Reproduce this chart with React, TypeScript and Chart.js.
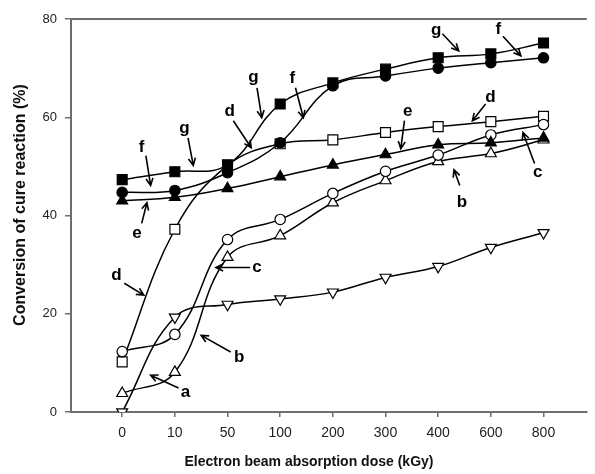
import React, { useEffect, useRef } from "react";
import { Chart, registerables } from "chart.js";

Chart.register(...registerables);

// Electron beam absorption dose (kGy) categories
const doses = ["0", "10", "50", "100", "200", "300", "400", "600", "800"];
const yTicks = [0, 20, 40, 60, 80];

// Conversion of cure reaction (%)
const seriesA = [0, 19.3, 21.9, 23.0, 24.4, 27.4, 29.6, 33.5, 36.5]; // open inverted triangle
const seriesB = [3.8, 8.1, 31.5, 35.9, 42.6, 47.1, 51.0, 52.6, 55.4]; // open triangle
const seriesC = [12.3, 15.8, 35.1, 39.2, 44.5, 49.0, 52.3, 56.4, 58.5]; // open circle
const seriesD = [10.2, 37.2, 50.2, 54.6, 55.4, 56.9, 58.1, 59.1, 60.2]; // open square
const seriesE = [43.0, 43.7, 45.5, 47.9, 50.3, 52.4, 54.4, 54.8, 55.8]; // filled triangle
const seriesF = [44.7, 45.1, 48.7, 54.8, 66.4, 68.4, 70.0, 71.1, 72.1]; // filled circle
const seriesG = [47.3, 48.9, 50.3, 62.7, 67.0, 69.8, 72.1, 72.9, 75.1]; // filled square

// Curve labels with arrows, in data coordinates (category index, %)
const noteText = ["f", "g", "d", "g", "f", "g", "f", "d", "e", "c", "b", "e", "d", "c", "b", "a"];
const noteLabelX = [0.37, 1.18, 2.04, 2.49, 3.23, 5.96, 7.14, 6.99, 5.42, 7.89, 6.45, 0.28, -0.11, 2.56, 2.22, 1.2];
const noteLabelY = [53.8, 57.7, 61.3, 68.2, 68.0, 77.6, 77.8, 64.0, 61.3, 48.7, 42.6, 36.3, 27.8, 29.4, 11.2, 4.1];
const arrowFromX = [0.45, 1.25, 2.11, 2.56, 3.29, 6.08, 7.23, 6.9, 5.36, 7.83, 6.41, 0.37, 0.04, 2.43, 2.06, 1.07];
const arrowFromY = [52.2, 55.8, 59.3, 66.0, 66.0, 77.0, 76.5, 62.7, 59.3, 50.6, 46.1, 38.4, 26.2, 29.4, 12.2, 4.9];
const arrowToX = [0.54, 1.35, 2.45, 2.65, 3.44, 6.39, 7.57, 6.65, 5.29, 7.61, 6.3, 0.47, 0.41, 1.78, 1.5, 0.54];
const arrowToY = [46.1, 50.2, 53.8, 59.9, 59.9, 73.5, 72.5, 59.3, 53.6, 56.9, 49.3, 42.6, 23.8, 29.4, 15.6, 7.5];

const X_TITLE = "Electron beam absorption dose (kGy)";
const Y_TITLE = "Conversion of cure reaction (%)";

const AXIS_COLOR = "#6e6e6e";
const FONT = "'Liberation Sans', Arial, sans-serif";

const toXY = (vals: number[]) => vals.map((v, i) => ({ x: i, y: v }));

const decorPlugin = {
  id: "decor",
  afterDraw(chart: any) {
    const { ctx, chartArea, scales } = chart;
    const xs = scales.x;
    const ys = scales.y;
    ctx.save();
    // top frame line
    ctx.strokeStyle = AXIS_COLOR;
    ctx.lineWidth = 2;
    ctx.beginPath();
    ctx.moveTo(chartArea.left - 1, chartArea.top);
    ctx.lineTo(chartArea.right, chartArea.top);
    ctx.stroke();

    // notes
    ctx.strokeStyle = "#000";
    ctx.fillStyle = "#000";
    ctx.lineWidth = 1.6;
    ctx.font = `bold 17px ${FONT}`;
    ctx.textAlign = "center";
    ctx.textBaseline = "middle";
    for (let i = 0; i < noteText.length; i++) {
      const x1 = xs.getPixelForValue(arrowFromX[i]);
      const y1 = ys.getPixelForValue(arrowFromY[i]);
      const x2 = xs.getPixelForValue(arrowToX[i]);
      const y2 = ys.getPixelForValue(arrowToY[i]);
      ctx.beginPath();
      ctx.moveTo(x1, y1);
      ctx.lineTo(x2, y2);
      const ang = Math.atan2(y2 - y1, x2 - x1);
      const hl = 8;
      const ha = 0.45;
      ctx.moveTo(x2 - hl * Math.cos(ang - ha), y2 - hl * Math.sin(ang - ha));
      ctx.lineTo(x2, y2);
      ctx.lineTo(x2 - hl * Math.cos(ang + ha), y2 - hl * Math.sin(ang + ha));
      ctx.stroke();
      ctx.fillText(noteText[i], xs.getPixelForValue(noteLabelX[i]), ys.getPixelForValue(noteLabelY[i]));
    }

    // axis titles
    ctx.fillStyle = "#111";
    ctx.font = `bold 14px ${FONT}`;
    ctx.textAlign = "center";
    ctx.textBaseline = "middle";
    ctx.fillText(X_TITLE, 309, 462);
    ctx.save();
    ctx.translate(21, 205);
    ctx.rotate(-Math.PI / 2);
    ctx.font = `bold 16px ${FONT}`;
    ctx.fillText(Y_TITLE, 0, 0);
    ctx.restore();
    ctx.restore();
  },
};

function makeSet(label: string, vals: number[], style: string, filled: boolean, radius: number, rotation = 0) {
  return {
    label,
    data: toXY(vals),
    borderColor: "#000",
    borderWidth: 1.5,
    pointStyle: style,
    pointRotation: rotation,
    pointRadius: radius,
    pointBorderWidth: 1.2,
    pointBorderColor: "#000",
    pointBackgroundColor: filled ? "#000" : "#fff",
    tension: 0.4,
    fill: false,
  };
}

export default function App() {
  const ref = useRef<HTMLCanvasElement | null>(null);
  useEffect(() => {
    document.body.style.margin = "0";
    if (!ref.current) return;
    const chart = new Chart(ref.current, {
      type: "line",
      data: {
        datasets: [
          makeSet("g", seriesG, "rect", true, 7),
          makeSet("f", seriesF, "circle", true, 5.2),
          makeSet("e", seriesE, "triangle", true, 6.3),
          makeSet("c", seriesC, "circle", false, 5.2),
          makeSet("b", seriesB, "triangle", false, 6.3),
          makeSet("a", seriesA, "triangle", false, 6.3, 180),
          makeSet("d", seriesD, "rect", false, 7),
        ] as any,
      },
      options: {
        animation: false,
        responsive: false,
        devicePixelRatio: 1,
        layout: { padding: { top: 19, right: 0, left: 0, bottom: 0 } },
        plugins: { legend: { display: false }, tooltip: { enabled: false } },
        scales: {
          x: {
            type: "linear",
            min: -0.972,
            max: 8.822,
            afterBuildTicks: (s: any) => {
              s.ticks = doses.map((_, i) => ({ value: i }));
            },
            afterFit: (s: any) => {
              s.height = 62;
            },
            ticks: {
              callback: (v: any) => doses[Math.round(Number(v))] ?? "",
              color: "#222",
              font: { family: FONT, size: 14 },
              padding: 8,
              maxRotation: 0,
              autoSkip: false,
            },
            grid: { drawOnChartArea: false, drawTicks: true, tickLength: 5, color: AXIS_COLOR, lineWidth: 1.5 },
            border: { color: AXIS_COLOR, width: 2 },
          },
          y: {
            type: "linear",
            min: 0,
            max: 80,
            afterBuildTicks: (s: any) => {
              s.ticks = yTicks.map((v) => ({ value: v }));
            },
            afterFit: (s: any) => {
              s.width = 71;
            },
            ticks: {
              color: "#222",
              font: { family: FONT, size: 13 },
              padding: 8,
            },
            grid: { drawOnChartArea: false, drawTicks: true, tickLength: 6, color: AXIS_COLOR, lineWidth: 1.5 },
            border: { color: AXIS_COLOR, width: 2 },
          },
        },
      },
      plugins: [decorPlugin],
    });
    return () => chart.destroy();
  }, []);
  return <canvas ref={ref} width={595} height={474} style={{ display: "block" }} />;
}
